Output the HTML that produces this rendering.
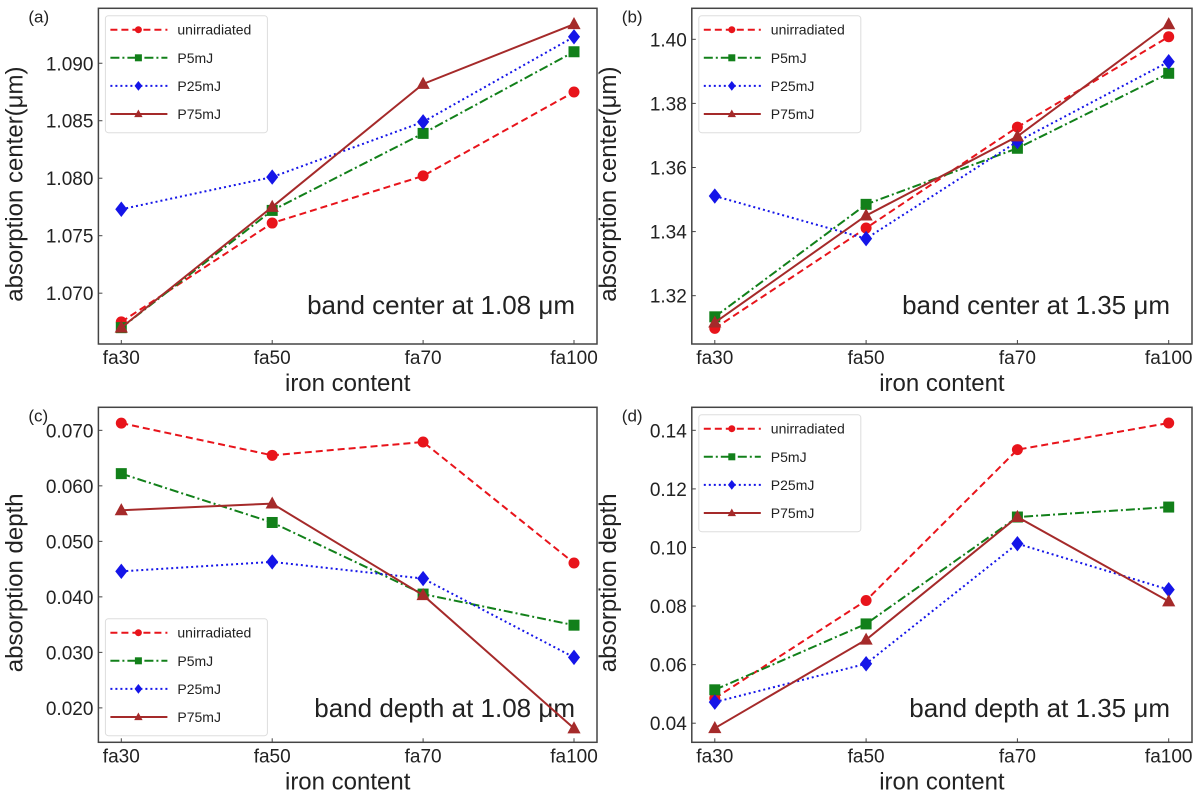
<!DOCTYPE html>
<html><head><meta charset="utf-8"><style>
body{margin:0;background:#fff;overflow:hidden;}
svg text{font-family:"Liberation Sans","DejaVu Sans",sans-serif;fill:#222;}
</style></head><body>
<svg id="fig" width="1200" height="798" xmlns="http://www.w3.org/2000/svg"></svg>
<script>
const categories = ["fa30","fa50","fa70","fa100"];
const seriesNames = ["unirradiated","P5mJ","P25mJ","P75mJ"];
// panel a: band center at 1.08
const aUnirr = [1.0675,1.0761,1.0802,1.0875];
const aP5 = [1.0670,1.0772,1.0839,1.0910];
const aP25 = [1.0773,1.0801,1.0849,1.0923];
const aP75 = [1.0670,1.0775,1.0882,1.0934];
const aTicks = [1.070,1.075,1.080,1.085,1.090];
// panel b: band center at 1.35
const bUnirr = [1.3098,1.3411,1.3726,1.4008];
const bP5 = [1.3134,1.3485,1.3660,1.3894];
const bP25 = [1.3511,1.3378,1.3681,1.3930];
const bP75 = [1.3116,1.3450,1.3697,1.4047];
const bTicks = [1.32,1.34,1.36,1.38,1.40];
// panel c: band depth at 1.08
const cUnirr = [0.0713,0.0655,0.0679,0.0461];
const cP5 = [0.0622,0.0534,0.0405,0.0349];
const cP25 = [0.0446,0.0463,0.0433,0.0291];
const cP75 = [0.0556,0.0568,0.0403,0.0163];
const cTicks = [0.020,0.030,0.040,0.050,0.060,0.070];
// panel d: band depth at 1.35
const dUnirr = [0.0485,0.0819,0.1334,0.1425];
const dP5 = [0.0514,0.0739,0.1104,0.1138];
const dP25 = [0.0472,0.0603,0.1013,0.0856];
const dP75 = [0.0383,0.0685,0.1104,0.0816];
const dTicks = [0.04,0.06,0.08,0.10,0.12,0.14];

const NS="http://www.w3.org/2000/svg";
const svg=document.getElementById('fig');
function mk(tag,attrs,parent){const e=document.createElementNS(NS,tag);for(const k in attrs)e.setAttribute(k,attrs[k]);(parent||svg).appendChild(e);return e;}
const styles=[
 {color:"#e8141b",dash:"7,4",marker:"circle"},
 {color:"#12801a",dash:"9,3,2,3",marker:"square"},
 {color:"#1515e8",dash:"2,3",marker:"diamond"},
 {color:"#a52a2a",dash:"",marker:"triangle"}];
function marker(g,type,x,y,c,s){
  let e;
  if(type==="circle")e=mk('circle',{cx:x,cy:y,r:s},g);
  else if(type==="square")e=mk('rect',{x:x-s,y:y-s,width:2*s,height:2*s},g);
  else if(type==="diamond")e=mk('polygon',{points:`${x},${y-s*1.4} ${x+s*1.1},${y} ${x},${y+s*1.4} ${x-s*1.1},${y}`},g);
  else e=mk('polygon',{points:`${x},${y-s*1.3} ${x+s*1.2},${y+s*0.9} ${x-s*1.2},${y+s*0.9}`},g);
  e.setAttribute('fill',c);
  return e;
}
function panel(p){
  const g=mk('g',{});
  
  
  const X=i=>p.xs[0]+i*(p.xs[1]-p.xs[0])/3;
  const Y=v=>p.top+(p.ymax-v)/(p.ymax-p.ymin)*(p.bottom-p.top);
  const box=mk('rect',{x:p.left,y:p.top,width:p.right-p.left,height:p.bottom-p.top,fill:'none',stroke:'#444','stroke-width':1.5},g);
  
  categories.forEach((c,i)=>{
    mk('line',{x1:X(i),x2:X(i),y1:p.bottom,y2:p.bottom-4,stroke:'#444'},g);
    const t=mk('text',{x:X(i),y:p.bottom+20,'font-size':19,'text-anchor':'middle'},g);t.textContent=c;
    
  });
  p.ticks.forEach(v=>{
    mk('line',{x1:p.left,x2:p.left+4,y1:Y(v),y2:Y(v),stroke:'#444'},g);
    const t=mk('text',{x:p.left-5,y:Y(v)+7,'font-size':19,'text-anchor':'end'},g);t.textContent=v.toFixed(p.dec);
    
  });
  const xl=mk('text',{x:(p.left+p.right)/2,y:p.bottom+47,'font-size':24,'text-anchor':'middle'},g);xl.textContent='iron content';
  
  const cy=(p.top+p.bottom)/2;
  const yl=mk('text',{x:p.left-76,y:cy+8,'font-size':24,'text-anchor':'middle',transform:`rotate(-90 ${p.left-76} ${cy+8})`},g);
  yl.textContent=p.ylabel;
  
  const pl=mk('text',{x:p.left-70,y:p.top+14,'font-size':17},g);pl.textContent='('+p.id+')';
  
  const an=mk('text',{x:p.right-22,y:p.annY,'font-size':26,'text-anchor':'end',fill:'#222'},g);an.textContent=p.note;
  
  p.series.forEach((vals,si)=>{
    const st=styles[si];
    const sg=mk('g',{},g);
    
    
    const pts=vals.map((v,i)=>X(i)+','+Y(v)).join(' ');
    mk('polyline',{points:pts,fill:'none',stroke:st.color,'stroke-width':2,'stroke-dasharray':st.dash},sg);
    vals.forEach((v,i)=>{const m=marker(sg,st.marker,X(i),Y(v),st.color,5.5);
      });
  });
  const lg=mk('g',{},g);
  
  mk('rect',{x:p.left+7,y:p.legY,width:162,height:117,rx:3,fill:'#fff','fill-opacity':0.85,stroke:'#ddd'},lg);
  seriesNames.forEach((n,si)=>{
    const st=styles[si];const yy=p.legY+14+si*28.1;
    const e=mk('g',{},lg);
    
    mk('line',{x1:p.left+12,x2:p.left+69,y1:yy,y2:yy,stroke:st.color,'stroke-width':2,'stroke-dasharray':st.dash},e);
    marker(e,st.marker,p.left+40,yy,st.color,3.5);
    const t=mk('text',{x:p.left+79,y:yy+5,'font-size':14},e);t.textContent=n;
  });
}
panel({id:'a',left:98.4,right:597,top:8.3,bottom:344,xs:[121.3,574],ymin:1.06558,ymax:1.09478,ticks:aTicks,dec:3,
  ylabel:'absorption center(μm)',note:'band center at 1.08 μm',annY:314,legY:15.7,series:[aUnirr,aP5,aP25,aP75]});
panel({id:'b',left:691.8,right:1192,top:8.3,bottom:344,xs:[714.8,1168.7],ymin:1.30492,ymax:1.40968,ticks:bTicks,dec:2,
  ylabel:'absorption center(μm)',note:'band center at 1.35 μm',annY:314,legY:15.7,series:[bUnirr,bP5,bP25,bP75]});
panel({id:'c',left:98.4,right:597,top:407.3,bottom:742.3,xs:[121.3,574],ymin:0.0138,ymax:0.07415,ticks:cTicks,dec:3,
  ylabel:'absorption depth',note:'band depth at 1.08 μm',annY:717,legY:618.7,series:[cUnirr,cP5,cP25,cP75]});
panel({id:'d',left:691.8,right:1192,top:407.3,bottom:742.3,xs:[714.8,1168.7],ymin:0.03348,ymax:0.14786,ticks:dTicks,dec:2,
  ylabel:'absorption depth',note:'band depth at 1.35 μm',annY:717,legY:414.7,series:[dUnirr,dP5,dP25,dP75]});
</script>
</body></html>
